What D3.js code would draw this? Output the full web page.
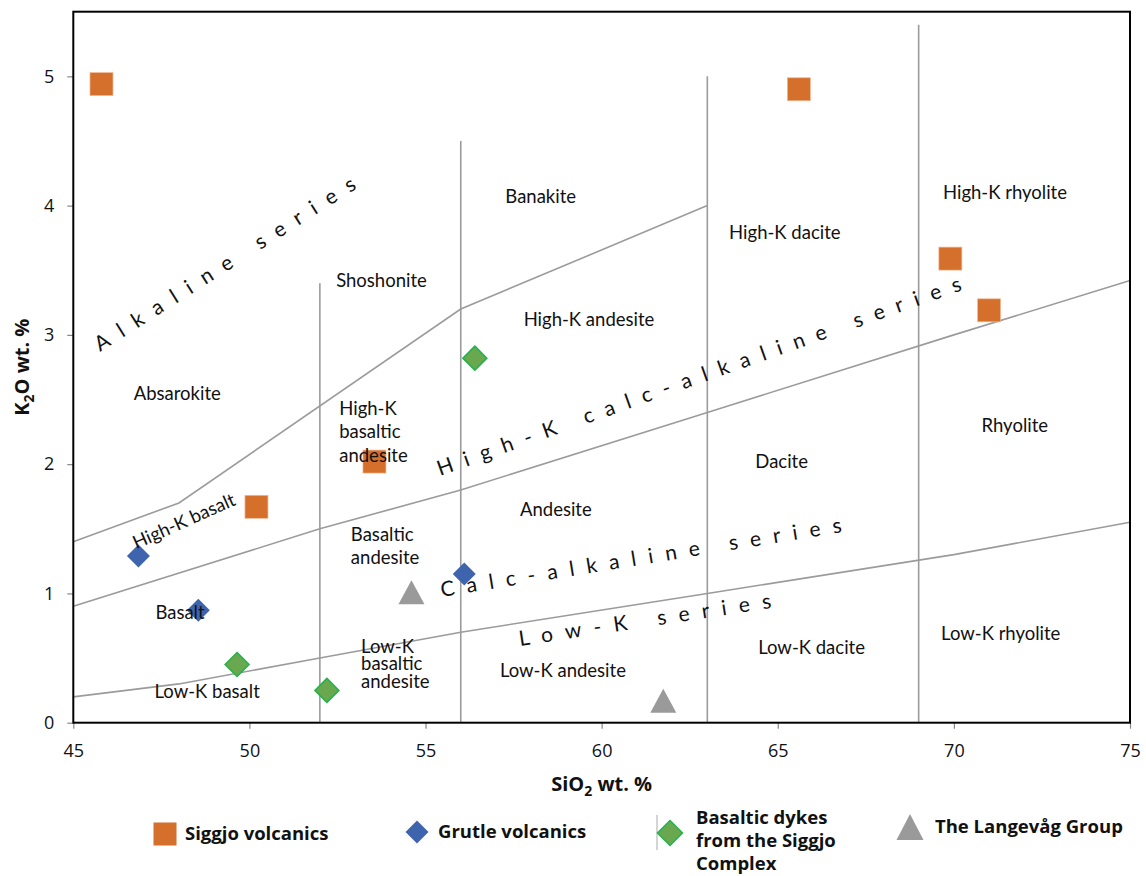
<!DOCTYPE html>
<html>
<head>
<meta charset="utf-8">
<script src="https://cdn.jsdelivr.net/npm/d3@7"></script>
<style>
  body { margin: 0; background: #fff; }
  svg { display: block; }
</style>
</head>
<body>
<svg id="chart" width="1146" height="876"></svg>
<script>
// ---- Sample data: SiO2 (wt. %) and K2O (wt. %) ----
const siggjoSiO2 = [45.8, 50.2, 53.55, 65.6, 69.9, 71.0];
const siggjoK2O  = [4.94, 1.67, 2.02, 4.90, 3.59, 3.19];

const grutleSiO2 = [46.85, 48.55, 56.1];
const grutleK2O  = [1.29, 0.87, 1.15];

const dykesSiO2 = [49.65, 52.2, 56.4];
const dykesK2O  = [0.45, 0.25, 2.82];

const langevagSiO2 = [54.6, 61.75];
const langevagK2O  = [1.01, 0.17];

// ---- Classification boundaries (Peccerillo & Taylor style) ----
const alkalineSiO2 = [45, 48, 56, 63];
const alkalineK2O  = [1.4, 1.7, 3.2, 4.0];

const highKSiO2 = [45, 52, 56, 63, 70, 75];
const highKK2O  = [0.9, 1.5, 1.8, 2.4, 3.0, 3.42];

const lowKSiO2 = [45, 48, 52, 56, 63, 70, 75];
const lowKK2O  = [0.2, 0.3, 0.5, 0.7, 1.0, 1.3, 1.55];

const dividerSiO2 = [52, 56, 63, 69];
const dividerTop  = [3.4, 4.5, 5.0, 5.4];

// ---- Axis ticks ----
const xTicks = [45, 50, 55, 60, 65, 70, 75];
const yTicks = [0, 1, 2, 3, 4, 5];

// ---- Legend ----
const legendNames = ["Siggjo volcanics", "Grutle volcanics",
  "Basaltic dykes from the Siggjo Complex", "The Langevåg Group"];

// ---- Layout ----
const svg = d3.select("#chart");
const plot = { left: 73.3, right: 1130, top: 11.7, bottom: 722.7 };
const x = d3.scaleLinear().domain([45, 75]).range([plot.left, plot.right]);
const y = d3.scaleLinear().domain([0, 5.5]).range([plot.bottom, plot.top]);

const tickFont = "'Open Sans', sans-serif";
const labelFont = "Lato, 'Open Sans', sans-serif";
const lineColor = "#9b9b9b";

// axes
const gx = svg.append("g")
  .attr("transform", `translate(0,${plot.bottom})`)
  .call(d3.axisBottom(x).tickValues(xTicks).tickSize(6).tickPadding(16).tickFormat(d3.format("d")));
const gy = svg.append("g")
  .attr("transform", `translate(${plot.left},0)`)
  .call(d3.axisLeft(y).tickValues(yTicks).tickSize(6).tickPadding(13).tickFormat(d3.format("d")));
[gx, gy].forEach(g => {
  g.select(".domain").remove();
  g.selectAll(".tick line").attr("stroke", "#888").attr("stroke-width", 1.2);
  g.selectAll(".tick text").attr("fill", "#111").style("font-family", tickFont).style("font-size", "18px");
});

// boundary lines
const line = d3.line().x(d => x(d[0])).y(d => y(d[1]));
const boundaries = [
  d3.zip(alkalineSiO2, alkalineK2O),
  d3.zip(highKSiO2, highKK2O),
  d3.zip(lowKSiO2, lowKK2O)
];
svg.append("g").selectAll("path").data(boundaries).join("path")
  .attr("d", line).attr("fill", "none")
  .attr("stroke", lineColor).attr("stroke-width", 1.6);

svg.append("g").selectAll("line").data(d3.zip(dividerSiO2, dividerTop)).join("line")
  .attr("x1", d => x(d[0])).attr("x2", d => x(d[0]))
  .attr("y1", y(0)).attr("y2", d => y(d[1]))
  .attr("stroke", lineColor).attr("stroke-width", 1.6);

// plot frame
svg.append("rect")
  .attr("x", plot.left).attr("y", plot.top)
  .attr("width", plot.right - plot.left).attr("height", plot.bottom - plot.top)
  .attr("fill", "none").attr("stroke", "#000").attr("stroke-width", 2);

// marker shapes
const diamond = r => `M0,${-r}L${r},0L0,${r}L${-r},0Z`;
const triangle = (w, h) => `M0,${-h / 2}L${w / 2},${h / 2}L${-w / 2},${h / 2}Z`;

const marks = svg.append("g");
marks.selectAll("rect.siggjo").data(d3.zip(siggjoSiO2, siggjoK2O)).join("rect")
  .attr("class", "siggjo")
  .attr("x", d => x(d[0]) - 11.5).attr("y", d => y(d[1]) - 11.5)
  .attr("width", 23).attr("height", 23)
  .attr("fill", "#D46F2C").attr("stroke", "#f2b996").attr("stroke-width", 0.7);
marks.selectAll("path.grutle").data(d3.zip(grutleSiO2, grutleK2O)).join("path")
  .attr("class", "grutle")
  .attr("transform", d => `translate(${x(d[0])},${y(d[1])})`)
  .attr("d", diamond(11.5)).attr("fill", "#3F64AE");
marks.selectAll("path.dykes").data(d3.zip(dykesSiO2, dykesK2O)).join("path")
  .attr("class", "dykes")
  .attr("transform", d => `translate(${x(d[0])},${y(d[1])})`)
  .attr("d", diamond(12)).attr("fill", "#6AA84F")
  .attr("stroke", "#22B24C").attr("stroke-width", 1.5);
marks.selectAll("path.langevag").data(d3.zip(langevagSiO2, langevagK2O)).join("path")
  .attr("class", "langevag")
  .attr("transform", d => `translate(${x(d[0])},${y(d[1])})`)
  .attr("d", triangle(26, 24)).attr("fill", "#9a9a9a");

// field names
const fieldNames = [
  ["Absarokite", 47.95, 2.55],
  ["Shoshonite", 53.75, 3.42],
  ["Banakite", 58.27, 4.07],
  ["High-K andesite", 59.64, 3.12],
  ["High-K dacite", 65.2, 3.79],
  ["High-K rhyolite", 71.45, 4.1],
  ["Rhyolite", 71.73, 2.30],
  ["Dacite", 65.11, 2.02],
  ["Andesite", 58.7, 1.65],
  ["Basalt", 48.03, 0.85],
  ["Low-K basalt", 48.8, 0.24],
  ["Low-K andesite", 58.9, 0.40],
  ["Low-K dacite", 65.96, 0.58],
  ["Low-K rhyolite", 71.33, 0.69]
];
const labels = svg.append("g")
  .style("font-family", labelFont).style("font-size", "18.5px").attr("fill", "#111");
labels.selectAll("text.field").data(fieldNames).join("text")
  .attr("class", "field")
  .attr("x", d => x(d[1])).attr("y", d => y(d[2]))
  .attr("dy", "0.35em").attr("text-anchor", "middle")
  .text(d => d[0]);

// stacked field names, left aligned
const stacked = [
  [["High-K", "basaltic", "andesite"], 52.55, 2.434, 23.5],
  [["Basaltic", "andesite"], 52.88, 1.452, 23],
  [["Low-K", "basaltic", "andesite"], 53.17, 0.59, 17.5]
];
stacked.forEach(([rows, sx, sy, lh]) => {
  const t = labels.append("text").attr("x", x(sx)).attr("y", y(sy));
  rows.forEach((r, i) => t.append("tspan").attr("x", x(sx)).attr("dy", i === 0 ? "0.35em" : lh).text(r));
});

labels.append("text")
  .attr("transform", `translate(${x(48.14)},${y(1.56)}) rotate(-24)`)
  .attr("text-anchor", "middle").attr("dy", "0.35em")
  .text("High-K basalt");

// series names, spaced out along the boundaries
const seriesNames = [
  ["Alkaline series", 45.76, 2.867, -32.5, 305],
  ["High-K calc-alkaline series", 55.41, 1.908, -19.6, 555],
  ["Calc-alkaline series", 55.46, 0.972, -9.2, 406],
  ["Low-K series", 57.68, 0.593, -8.6, 255]
];
svg.append("g").selectAll("text").data(seriesNames).join("text")
  .attr("transform", d => `translate(${x(d[1])},${y(d[2])}) rotate(${d[3]})`)
  .attr("textLength", d => d[4]).attr("lengthAdjust", "spacing")
  .style("font-family", labelFont).style("font-size", "21px").attr("fill", "#111")
  .text(d => d[0]);

// axis titles
const titleFont = "'Open Sans', sans-serif";
const xt = svg.append("text")
  .attr("x", (plot.left + plot.right) / 2).attr("y", 791)
  .attr("text-anchor", "middle")
  .style("font-family", titleFont).style("font-size", "20px").style("font-weight", "bold").attr("fill", "#111");
xt.append("tspan").text("SiO");
xt.append("tspan").attr("dy", 5).style("font-size", "14px").text("2");
xt.append("tspan").attr("dy", -5).text(" wt. %");

const yt = svg.append("text")
  .attr("transform", `translate(29,${(plot.top + plot.bottom) / 2}) rotate(-90)`)
  .attr("text-anchor", "middle")
  .style("font-family", titleFont).style("font-size", "20px").style("font-weight", "bold").attr("fill", "#111");
yt.append("tspan").text("K");
yt.append("tspan").attr("dy", 5).style("font-size", "14px").text("2");
yt.append("tspan").attr("dy", -5).text("O wt. %");

// legend
const legend = svg.append("g")
  .style("font-family", titleFont).style("font-size", "18.5px").style("font-weight", "bold").attr("fill", "#111");
const lg0 = legend.append("g").attr("transform", "translate(165,834)");
lg0.append("rect").attr("x", -11.5).attr("y", -11.5).attr("width", 23).attr("height", 23).attr("fill", "#D46F2C");
lg0.append("text").attr("x", 20).attr("dy", "0.35em").text(legendNames[0]);

const lg1 = legend.append("g").attr("transform", "translate(417,832)");
lg1.append("path").attr("d", diamond(11.5)).attr("fill", "#3F64AE");
lg1.append("text").attr("x", 21).attr("dy", "0.35em").text(legendNames[1]);

const lg2 = legend.append("g").attr("transform", "translate(670,833)");
lg2.append("line").attr("x1", -13).attr("x2", -13).attr("y1", -18).attr("y2", 17)
  .attr("stroke", "#aaa").attr("stroke-width", 1);
lg2.append("path").attr("d", diamond(12.5)).attr("fill", "#6AA84F").attr("stroke", "#22B24C").attr("stroke-width", 1.5);
const lt2 = lg2.append("text").attr("y", -15);
["Basaltic dykes", "from the Siggjo", "Complex"].forEach((r, i) =>
  lt2.append("tspan").attr("x", 26).attr("dy", i === 0 ? "0.35em" : 23).text(r));

const lg3 = legend.append("g").attr("transform", "translate(910,827)");
lg3.append("path").attr("d", triangle(27, 26)).attr("fill", "#9a9a9a");
lg3.append("text").attr("x", 25).attr("dy", "0.35em").text(legendNames[3]);
</script>
</body>
</html>
